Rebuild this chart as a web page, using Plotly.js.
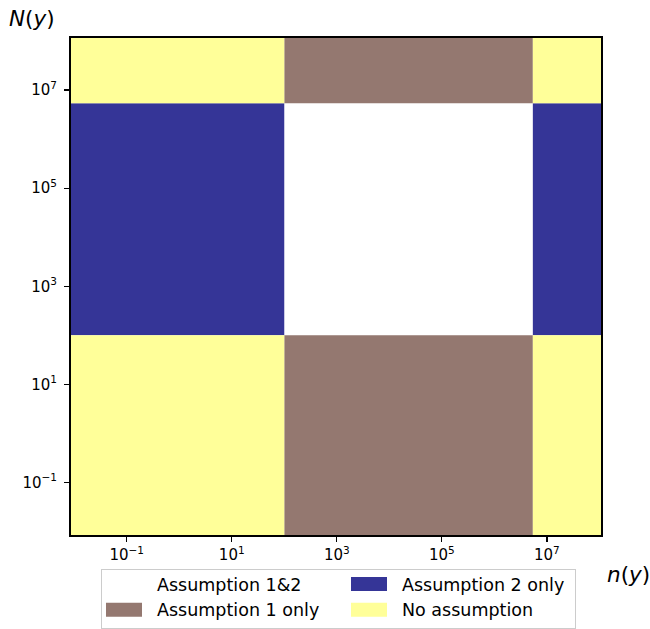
<!DOCTYPE html>
<html><head><meta charset="utf-8">
<script src="https://cdn.plot.ly/plotly-3.0.1.min.js"></script>
<style>html,body{margin:0;padding:0;background:#fff}</style>
</head><body><div id="chart" style="width:650px;height:629px"></div>
<script>
// axis extents (data values)
const xLimits = [Math.pow(10, -2.06), Math.pow(10, 8.03)];
const yLimits = [Math.pow(10, -2.07), Math.pow(10, 8.06)];
// band limits of n(y) where Assumption 1 holds, and of N(y) where Assumption 2 holds
const nThresholds = [1e2, 5.4e6];
const NThresholds = [1e2, 5.4e6];
const categories = ['Assumption 1&2', 'Assumption 2 only', 'Assumption 1 only', 'No assumption'];
const categoryColors = ['#ffffff', '#353597', '#947870', '#ffff99'];
const tickValues = [1e-1, 1e1, 1e3, 1e5, 1e7];
const tickLabels = ['10<sup>\u22121</sup>', '10<sup>1</sup>', '10<sup>3</sup>', '10<sup>5</sup>', '10<sup>7</sup>'];

const xEdges = [xLimits[0], nThresholds[0], nThresholds[1], xLimits[1]];
const yEdges = [yLimits[0], NThresholds[0], NThresholds[1], yLimits[1]];

const polys = categories.map(() => ({x: [], y: []}));
for (let i = 0; i < 3; i++) {
  for (let j = 0; j < 3; j++) {
    const a1 = i === 1, a2 = j === 1;
    const c = (a1 && a2) ? 0 : a2 ? 1 : a1 ? 2 : 3;
    const p = polys[c];
    p.x.push(xEdges[i], xEdges[i+1], xEdges[i+1], xEdges[i], xEdges[i], null);
    p.y.push(yEdges[j], yEdges[j], yEdges[j+1], yEdges[j+1], yEdges[j], null);
  }
}
const traces = categories.map((name, c) => ({
  type: 'scatter', mode: 'none', name: name,
  x: polys[c].x, y: polys[c].y,
  fill: 'toself', fillcolor: categoryColors[c],
  hoverinfo: 'name'
}));

const font = 'DejaVu Sans, Verdana, sans-serif';
const axisCommon = {
  type: 'log', tickmode: 'array', tickvals: tickValues, ticktext: tickLabels,
  ticks: 'outside', ticklen: 5, tickwidth: 1.2, tickcolor: '#000',
  showline: true, linecolor: '#000', linewidth: 2, mirror: true,
  showgrid: false, zeroline: false,
  tickfont: {family: font, size: 15, color: '#000'}
};
const layout = {
  width: 650, height: 629,
  margin: {l: 71, r: 49, t: 38, b: 94, autoexpand: false},
  paper_bgcolor: '#fff', plot_bgcolor: '#fff',
  font: {family: font, color: '#000'},
  xaxis: Object.assign({}, axisCommon, {range: [Math.log10(xLimits[0]), Math.log10(xLimits[1])], ticklabelstandoff: 0}),
  yaxis: Object.assign({}, axisCommon, {range: [Math.log10(yLimits[0]), Math.log10(yLimits[1])], ticklabelstandoff: 4}),
  showlegend: true,
  legend: {
    orientation: 'h', x: 0.0566, xanchor: 'left', y: -0.0604, yanchor: 'top',
    xref: 'paper', yref: 'paper',
    entrywidth: 185, entrywidthmode: 'pixels', itemwidth: 45,
    font: {family: font, size: 17.5, color: '#000'},
    bgcolor: '#fff', bordercolor: '#cccccc', borderwidth: 1,
    traceorder: 'normal'
  },
  annotations: [
    {text: '<i>N</i>(<i>y</i>)', xref: 'paper', yref: 'paper', x: -0.121, y: 1.04,
     xanchor: 'left', yanchor: 'middle', showarrow: false, font: {family: font, size: 21.5, color: '#000'}},
    {text: '<i>n</i>(<i>y</i>)', xref: 'paper', yref: 'paper', x: 1.008, y: -0.08,
     xanchor: 'left', yanchor: 'middle', showarrow: false, font: {family: font, size: 21.5, color: '#000'}}
  ]
};
Plotly.newPlot('chart', traces, layout, {displayModeBar: false, staticPlot: true}).then(() => {
  document.querySelectorAll('.legendfill path').forEach(p => p.setAttribute('d', 'M4,-7h36v14h-36z'));
  const bg = document.querySelector('.legend rect.bg');
  if (bg) {
    const w = parseFloat(bg.getAttribute('width'));
    const h = parseFloat(bg.getAttribute('height'));
    const y = parseFloat(bg.getAttribute('y')) || 0;
    bg.setAttribute('width', w - 17);
    bg.setAttribute('y', y + 4);
    bg.setAttribute('height', h - 4);
  }
});
</script></body></html>
